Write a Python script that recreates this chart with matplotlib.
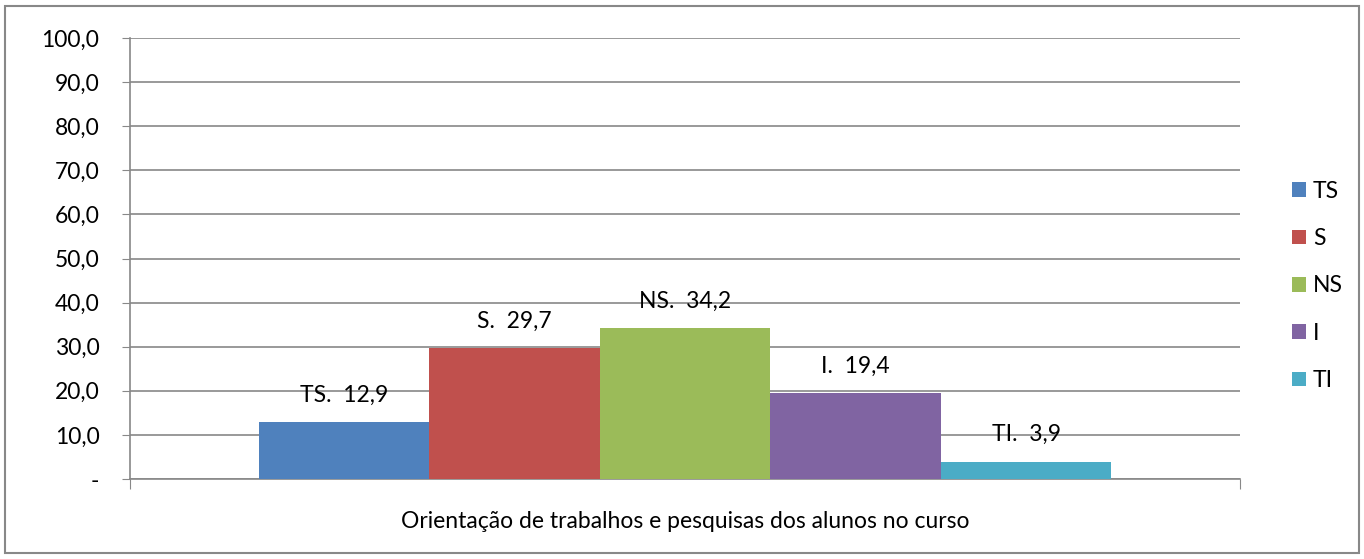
import matplotlib.pyplot as plt
from matplotlib.patches import Rectangle

plt.rcParams['font.family'] = ['Lato', 'DejaVu Sans']

series = ["TS", "S", "NS", "I", "TI"]
values = [12.9, 29.7, 34.2, 19.4, 3.9]
colors = ["#4f81bd", "#c0504d", "#9bbb59", "#8064a2", "#4bacc6"]
yticks = [0, 10, 20, 30, 40, 50, 60, 70, 80, 90, 100]
xlabel = "Orientação de trabalhos e pesquisas dos alunos no curso"

FS = 16.5
W, H = 1364, 559
fig = plt.figure(figsize=(W / 100, H / 100), dpi=100)
ax = fig.add_axes([130 / W, 1 - 479 / H, 1110 / W, 441 / H])

# one category, five series side by side
n = len(series)
width = 170.5 / 1110
for i, (s, v, c) in enumerate(zip(series, values, colors)):
    x = 0.5 + (i - (n - 1) / 2) * width
    ax.bar(x, v, width=width, color=c, label=s, zorder=3)
    lab = f"{s}.  " + f"{v:.1f}".replace(".", ",")
    ax.annotate(lab, (x, v), xytext=(0, 19.5), textcoords="offset points",
                ha="center", va="center", fontsize=FS)

ax.set_xlim(0, 1)
ax.set_ylim(0, 100)
ax.set_yticks(yticks)
ax.set_yticklabels(["-" if t == 0 else f"{t:.1f}".replace(".", ",") for t in yticks], fontsize=FS)
ax.set_xticks([0, 1])
ax.set_xticklabels(["", ""])
ax.tick_params(axis="y", length=6, color="#888888", pad=16)
ax.tick_params(axis="x", length=7, color="#888888")
ax.grid(axis="y", color="#888888", lw=1.2, zorder=0)
for sp in ["top", "right"]:
    ax.spines[sp].set_visible(False)
for sp in ["left", "bottom"]:
    ax.spines[sp].set_color("#888888")
    ax.spines[sp].set_linewidth(1.2)

fig.text(685 / W, 1 - 522 / H, xlabel, ha="center", va="center", fontsize=FS)

leg = ax.legend(loc="center left", bbox_to_anchor=(1281 / W, 1 - 286 / H),
                bbox_transform=fig.transFigure, frameon=False, fontsize=FS,
                handlelength=0.6, handleheight=0.6, handletextpad=0.3,
                labelspacing=1.15, borderpad=0)

fig.patches.append(Rectangle((5 / W, 6 / H), 1354 / W, 547 / H, transform=fig.transFigure,
                             fill=False, edgecolor="#888888", lw=1.5))

fig.savefig("out.png", dpi=100)
